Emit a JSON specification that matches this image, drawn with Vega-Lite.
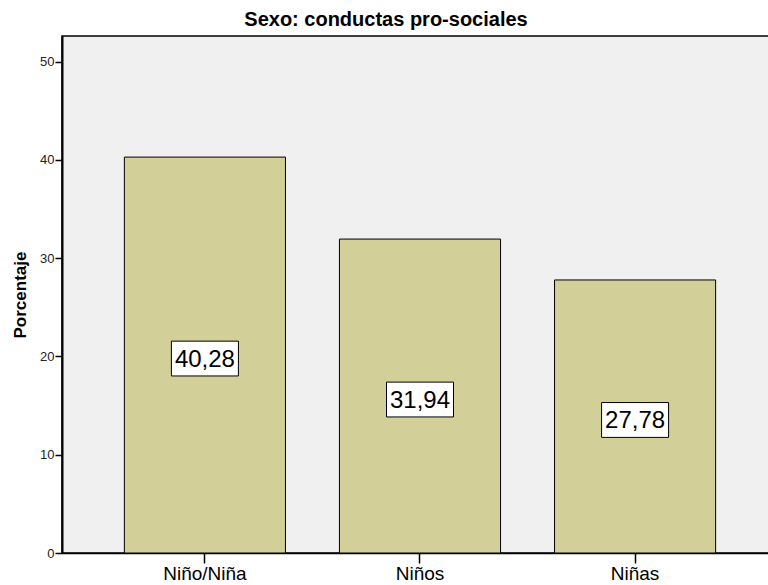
{
  "$schema": "https://vega.github.io/schema/vega-lite/v6.json",
  "autosize": "none",
  "width": 716,
  "height": 517,
  "padding": {"left": 62, "top": 36, "right": 0, "bottom": 32},
  "background": "white",
  "config": {
    "font": "Liberation Sans",
    "view": {"fill": "#F0F0F0", "stroke": "black", "strokeWidth": 1.5}
  },
  "title": {
    "text": "Sexo: conductas pro-sociales",
    "fontSize": 20,
    "fontWeight": "bold",
    "color": "black",
    "offset": 6,
    "dx": -34
  },
  "data": {
    "values": [
      {"sexo": "Niño/Niña", "pct": 40.28, "label": "40,28"},
      {"sexo": "Niños", "pct": 31.94, "label": "31,94"},
      {"sexo": "Niñas", "pct": 27.78, "label": "27,78"}
    ]
  },
  "transform": [{"calculate": "datum.pct / 2", "as": "mid"}],
  "encoding": {
    "x": {
      "field": "sexo",
      "type": "nominal",
      "sort": null,
      "scale": {"paddingInner": 0.251, "paddingOuter": 0.29},
      "axis": {
        "title": null,
        "labelAngle": 0,
        "labelFontSize": 19,
        "labelColor": "black",
        "labelPadding": 1,
        "tickSize": 10,
        "tickColor": "black",
        "tickWidth": 1.5,
        "domainColor": "black",
        "domainWidth": 1.5
      }
    }
  },
  "layer": [
    {
      "mark": {"type": "bar", "fill": "#D3CF98", "stroke": "black", "strokeWidth": 1},
      "encoding": {
        "y": {
          "field": "pct",
          "type": "quantitative",
          "scale": {"domain": [0, 52.6], "nice": false},
          "axis": {
            "title": "Porcentaje",
            "titleFontSize": 17,
            "titleFontWeight": "bold",
            "titleColor": "black",
            "titlePadding": 10,
            "values": [0, 10, 20, 30, 40, 50],
            "grid": false,
            "labelFontSize": 13,
            "labelColor": "#222",
            "labelPadding": 1,
            "tickSize": 7,
            "tickColor": "black",
            "tickWidth": 1.5,
            "domainColor": "black",
            "domainWidth": 2
          }
        }
      }
    },
    {
      "mark": {
        "type": "point",
        "shape": "M-1,-0.52L1,-0.52L1,0.52L-1,0.52Z",
        "size": 4489,
        "filled": true,
        "fill": "white",
        "stroke": "black",
        "strokeWidth": 1,
        "opacity": 1
      },
      "encoding": {
        "y": {"field": "mid", "type": "quantitative"},
        "yOffset": {"value": 3.5}
      }
    },
    {
      "mark": {"type": "text", "fontSize": 24, "color": "black", "baseline": "middle", "dy": 4.5},
      "encoding": {
        "y": {"field": "mid", "type": "quantitative"},
        "text": {"field": "label"}
      }
    }
  ]
}
